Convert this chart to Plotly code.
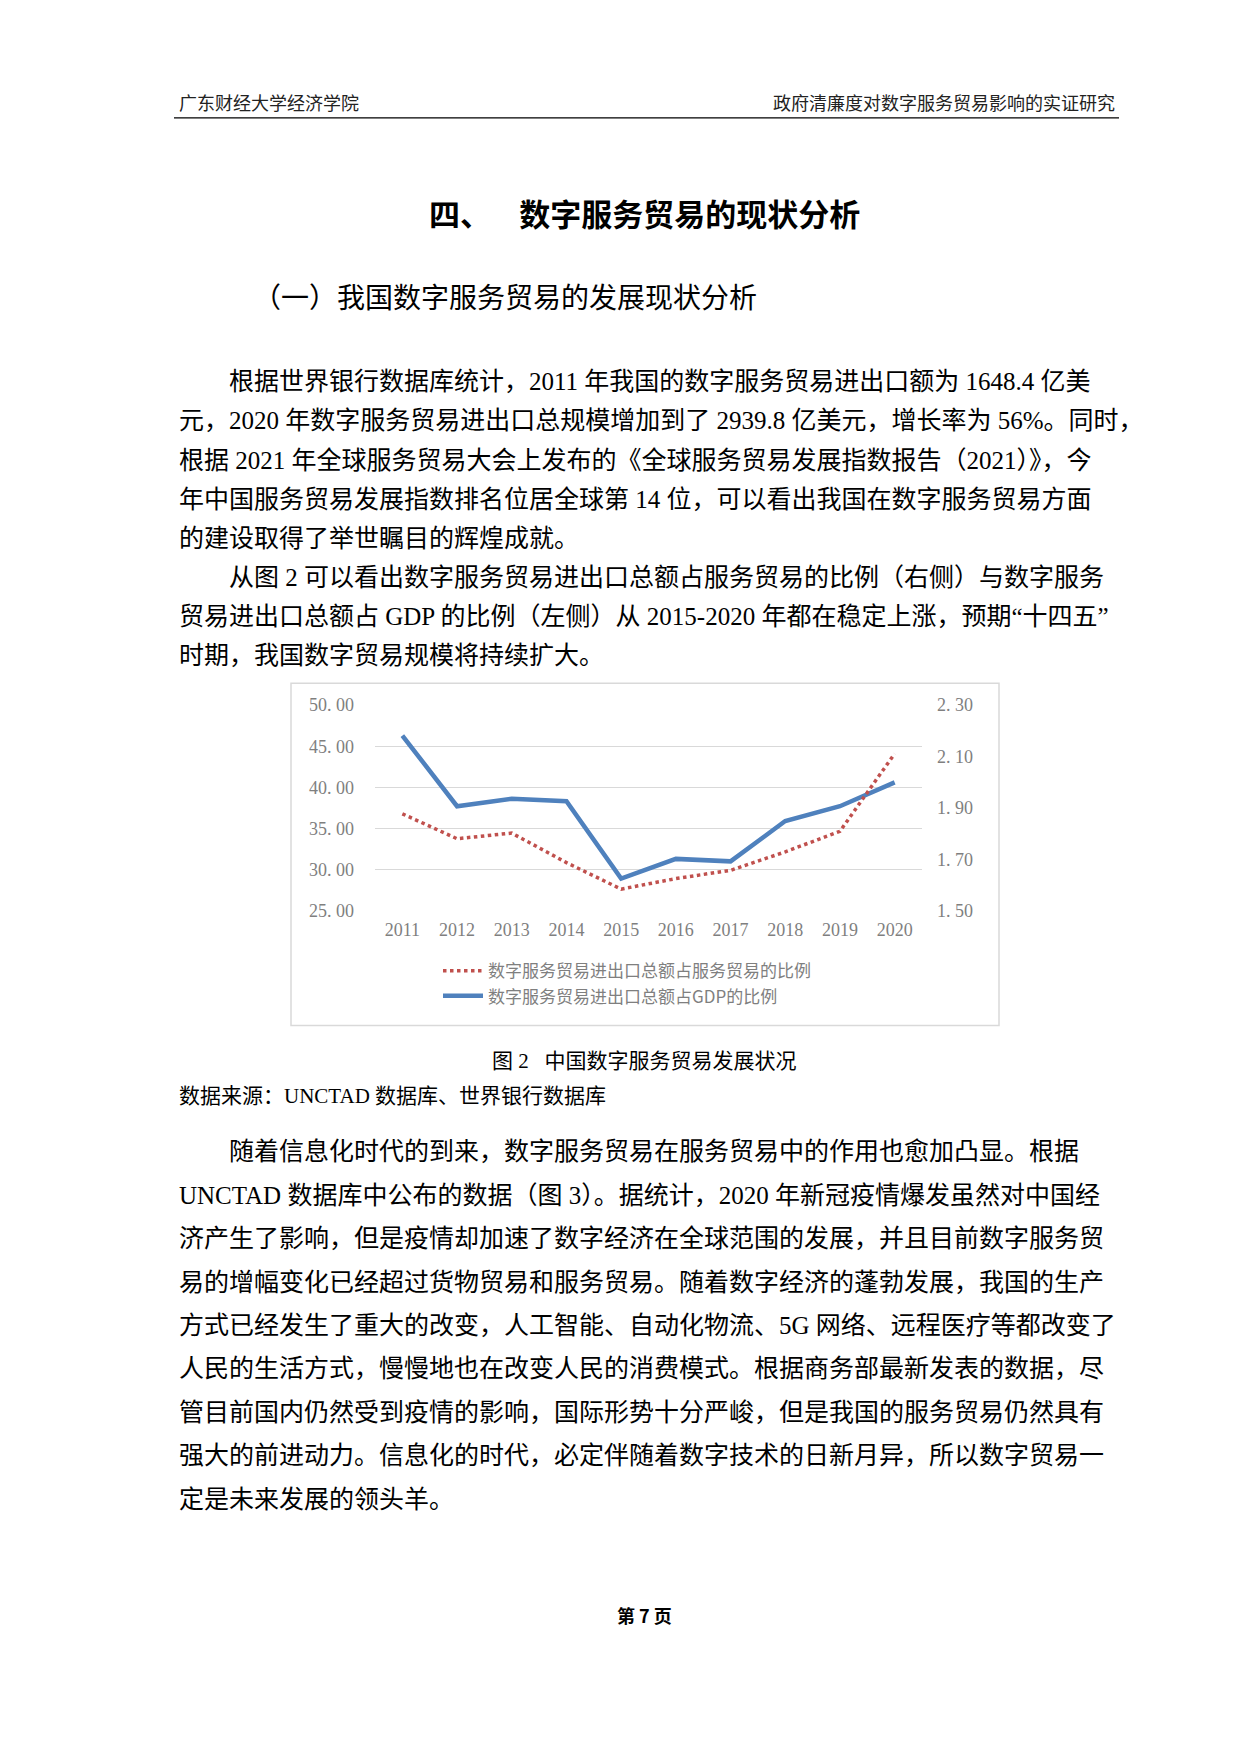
import plotly.graph_objects as go

years = ["2011", "2012", "2013", "2014", "2015", "2016", "2017", "2018", "2019", "2020"]
gdp_ratio = [46.3, 37.7, 38.6, 38.3, 28.9, 31.3, 31.0, 35.9, 37.7, 40.6]
service_ratio = [1.877, 1.780, 1.802, 1.687, 1.584, 1.625, 1.657, 1.729, 1.809, 2.111]
left_ticks = [25, 30, 35, 40, 45, 50]
right_ticks = [1.5, 1.7, 1.9, 2.1, 2.3]
name_service = "数字服务贸易进出口总额占服务贸易的比例"
name_gdp = "数字服务贸易进出口总额占GDP的比例"

para1 = [
    "根据世界银行数据库统计，2011 年我国的数字服务贸易进出口额为 1648.4 亿美",
    "元，2020 年数字服务贸易进出口总规模增加到了 2939.8 亿美元，增长率为 56%。同时，",
    "根据 2021 年全球服务贸易大会上发布的《全球服务贸易发展指数报告（2021）》，今",
    "年中国服务贸易发展指数排名位居全球第 14 位，可以看出我国在数字服务贸易方面",
    "的建设取得了举世瞩目的辉煌成就。",
    "从图 2 可以看出数字服务贸易进出口总额占服务贸易的比例（右侧）与数字服务",
    "贸易进出口总额占 GDP 的比例（左侧）从 2015-2020 年都在稳定上涨，预期“十四五”",
    "时期，我国数字贸易规模将持续扩大。",
]
para1_indent = [True, False, False, False, False, True, False, False]
para2 = [
    "随着信息化时代的到来，数字服务贸易在服务贸易中的作用也愈加凸显。根据",
    "UNCTAD 数据库中公布的数据（图 3）。据统计，2020 年新冠疫情爆发虽然对中国经",
    "济产生了影响，但是疫情却加速了数字经济在全球范围的发展，并且目前数字服务贸",
    "易的增幅变化已经超过货物贸易和服务贸易。随着数字经济的蓬勃发展，我国的生产",
    "方式已经发生了重大的改变，人工智能、自动化物流、5G 网络、远程医疗等都改变了",
    "人民的生活方式，慢慢地也在改变人民的消费模式。根据商务部最新发表的数据，尽",
    "管目前国内仍然受到疫情的影响，国际形势十分严峻，但是我国的服务贸易仍然具有",
    "强大的前进动力。信息化的时代，必定伴随着数字技术的日新月异，所以数字贸易一",
    "定是未来发展的领头羊。",
]
para2_indent = [True] + [False] * 8

W, H = 1240, 1754
SERIF = "Liberation Serif, Noto Sans CJK SC"
CJK = "Noto Sans CJK SC"
GRAY = "#7f7f7f"

def px(x):
    return x / W

def py(y):
    return 1 - y / H

def spaced(v):
    return f"{v:.2f}".replace(".", ". ")

fig = go.Figure()
xs = list(range(len(years)))
fig.add_trace(go.Scatter(x=xs, y=service_ratio, name=name_service, yaxis="y2",
                         mode="lines", line=dict(color="#C0504D", width=3.5, dash="dot")))
fig.add_trace(go.Scatter(x=xs, y=gdp_ratio, name=name_gdp, yaxis="y",
                         mode="lines", line=dict(color="#4F81BD", width=4.5)))

ann = []
def text(x, y, s, size, anchor="left", bold=False, color="#000", family=SERIF):
    if bold:
        s = "<b>" + s + "</b>"
    ann.append(dict(x=px(x), y=py(y), xref="paper", yref="paper", text=s, showarrow=False,
                    xanchor=anchor, yanchor="middle", font=dict(size=size, color=color, family=family)))

text(169, 87, "广东财经大学经济学院", 18, color="#222")
text(1109, 87, "政府清廉度对数字服务贸易影响的实证研究", 18, anchor="right", color="#222")
text(636, 197, "四、&nbsp;&nbsp;&nbsp;&nbsp;数字服务贸易的现状分析", 31, anchor="center", bold=True, family=CJK)
text(243, 281, "（一）我国数字服务贸易的发展现状分析", 28, family=CJK)

y0 = 368
for i, (s, ind) in enumerate(zip(para1, para1_indent)):
    text(219 if ind else 169, y0 + i * 39.6, s, 25)
text(636, 1055, "图 2&nbsp;&nbsp;&nbsp;中国数字服务贸易发展状况", 21, anchor="center")
text(169, 1090, "数据来源：UNCTAD 数据库、世界银行数据库", 21)
y0 = 1147
for i, (s, ind) in enumerate(zip(para2, para2_indent)):
    text(219 if ind else 169, y0 + i * 43.9, s, 25)
text(636, 1615, "第 7 页", 18, anchor="center", bold=True, family=CJK)

shapes = [
    dict(type="line", xref="paper", yref="paper", x0=px(166), x1=px(1111), y0=py(101), y1=py(101),
         line=dict(color="#000", width=1.3)),
    dict(type="rect", xref="paper", yref="paper", x0=px(283), x1=px(991), y0=py(673), y1=py(1019),
         line=dict(color="#d9d9d9", width=1.5)),
]

tickfont = dict(size=18, color=GRAY, family="Liberation Serif")
fig.update_layout(
    width=W, height=H, margin=dict(l=0, r=0, t=0, b=0),
    paper_bgcolor="white", plot_bgcolor="white",
    annotations=ann, shapes=shapes,
    xaxis=dict(domain=[px(367), px(914)], range=[-0.5, 9.5], tickmode="array", tickvals=xs,
               ticktext=years, showgrid=False, zeroline=False, showline=False, ticks="",
               tickfont=tickfont, ticklabelstandoff=6),
    yaxis=dict(domain=[py(903), py(695)], range=[25, 50], tickvals=left_ticks,
               ticktext=[spaced(v) for v in left_ticks], showgrid=True, gridcolor="#d9d9d9",
               gridwidth=1.3, zeroline=False, showline=False, ticks="", tickfont=tickfont,
               ticklabelstandoff=20),
    yaxis2=dict(overlaying="y", side="right", range=[1.5, 2.3], tickvals=right_ticks,
                ticktext=[spaced(v) for v in right_ticks], showgrid=False, zeroline=False,
                showline=False, ticks="", tickfont=tickfont, ticklabelstandoff=14),
    showlegend=True,
    legend=dict(x=px(430), y=py(946), xanchor="left", yanchor="top", orientation="v",
                font=dict(size=17, color=GRAY, family=CJK), bgcolor="rgba(0,0,0,0)",
                tracegroupgap=0, itemwidth=40),
)
fig.write_html("out.html")
